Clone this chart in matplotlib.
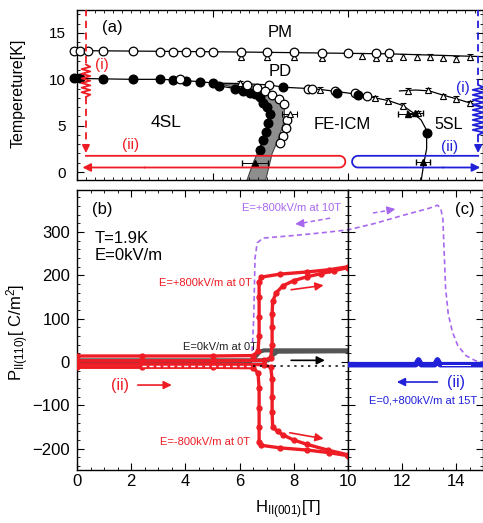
import numpy as np
import matplotlib
matplotlib.use('Agg')
import matplotlib.pyplot as plt
from matplotlib.ticker import MultipleLocator

plt.rcParams['font.family'] = ['Liberation Sans', 'DejaVu Sans']
plt.rcParams['mathtext.fontset'] = 'custom'
plt.rcParams['mathtext.rm'] = 'Liberation Sans'
plt.rcParams['mathtext.it'] = 'Liberation Sans:italic'

RED = '#ee1c24'
BLUE = '#2020d8'
PURPLE = '#a868ee'
GREY = '#555555'

# ---------------- (a) phase diagram data ----------------
pm_line_H = [0.0, 6.0, 11.5, 14.98]
pm_line_T = [13.1, 12.95, 12.75, 12.45]
pm_circ_H = [-0.1, 0.1, 0.4, 0.96, 2.07, 3.06, 3.54, 4.02, 4.54, 5.02, 6.05, 7.0, 8.0, 9.04, 10.0, 11.03, 11.5]
pm_circ_T = [13.1, 13.1, 13.1, 13.1, 13.05, 13.0, 13.0, 13.0, 12.95, 12.95, 12.95, 12.9, 12.9, 12.85, 12.85, 12.8, 12.8]
pm_tri_H = [6.05, 7.0, 8.0, 9.04, 10.5, 11.03, 11.5, 12.03, 12.55, 13.03, 13.5, 14.0, 14.5]
pm_tri_T = [12.45, 12.4, 12.4, 12.35, 12.5, 12.35, 12.35, 12.45, 12.4, 12.4, 12.35, 12.2, 12.4]

sl4_H = [-0.1, 0.1, 0.96, 2.07, 3.06, 3.54, 4.02, 4.54, 5.02, 5.24, 5.83, 6.13, 6.38, 6.57, 6.75, 6.86, 7.01, 7.12, 7.05, 6.97, 6.86, 6.75]
sl4_T = [10.1, 10.1, 10.05, 10.0, 10.0, 9.95, 9.85, 9.75, 9.6, 9.3, 9.0, 8.7, 8.5, 8.4, 8.1, 7.5, 7.0, 6.3, 5.3, 4.3, 3.45, 2.4]

pd_line_H = [5.0, 6.0, 7.1, 7.6, 8.6, 9.0, 9.55, 10.3, 10.7, 11.0, 11.5, 12.0, 12.4, 12.7, 12.9, 12.9, 12.8, 12.7]
pd_line_T = [9.6, 9.55, 9.4, 9.15, 9.0, 8.9, 8.7, 8.4, 8.2, 8.0, 7.7, 7.2, 6.4, 5.6, 4.5, 2.5, 1.0, -0.9]
pd_open_H = [3.8, 6.27, 7.08, 8.52, 8.67, 9.52, 10.26, 10.7, 6.65, 6.95, 7.2, 7.45, 7.65, 7.75, 7.7, 7.6, 7.5]
pd_open_T = [10.0, 9.4, 9.4, 9.0, 9.0, 8.75, 8.5, 8.2, 9.1, 8.7, 8.35, 7.9, 7.3, 5.6, 4.7, 3.9, 3.1]
pd_fill_H = [7.6, 9.59, 10.37, 12.9]
pd_fill_T = [9.15, 8.55, 8.35, 4.2]
pd_tri_H = [6.0, 8.97, 11.0, 11.48, 12.03, 12.6]
pd_tri_T = [9.6, 8.9, 8.0, 7.7, 7.15, 6.35]
ftri_H = [6.57, 12.2, 12.47, 12.77]
ftri_T = [1.0, 6.3, 6.35, 1.1]
ftri_err = [0.48, 0.35, 0.3, 0.25]
otri_H = [7.85]
otri_T = [6.3]

sl5_line_H = [11.9, 12.5, 13.0, 13.5, 14.0, 14.5, 14.98]
sl5_line_T = [8.75, 8.85, 8.75, 8.3, 7.9, 7.45, 7.0]
sl5_tri_H = [12.2, 12.95, 13.5, 14.0, 14.5]
sl5_tri_T = [8.75, 8.8, 8.15, 7.85, 7.4]

band_left_H = [6.27, 6.5, 6.72, 6.84, 6.95, 7.03, 7.08, 6.98, 6.84, 6.55, 6.2, 5.8, 5.3]
band_left_T = [-0.9, 1.0, 2.4, 3.45, 4.3, 5.3, 6.3, 7.0, 7.5, 8.3, 8.8, 9.1, 9.5]
band_right_H = [6.3, 6.65, 6.95, 7.25, 7.5, 7.65, 7.65, 7.55, 7.42, 7.2, 6.96]
band_right_T = [9.5, 9.1, 8.6, 8.2, 7.6, 6.8, 5.6, 4.6, 3.5, 2.0, -0.9]

# ---------------- (b), (c) polarization data ----------------
pos_out_H = [0.0, 2.4, 5.0, 6.5, 6.68, 6.72, 6.72, 6.72, 6.72, 6.8, 7.5, 8.5, 9.3, 10.0]
pos_out_P = [14, 14, 14, 15, 25, 60, 104, 150, 185, 196, 203, 208, 213, 220]
pos_in_H = [0.0, 2.4, 5.0, 6.9, 7.15, 7.2, 7.2, 7.2, 7.22, 7.35, 7.6, 8.0, 8.5, 9.0, 9.5, 10.0]
pos_in_P = [3, 3, 3, 4, 10, 40, 80, 110, 140, 160, 176, 188, 197, 204, 211, 218]
neg_out_H = pos_out_H
neg_out_P = [-12, -12, -12, -13, -25, -60, -105, -150, -185, -192, -198, -203, -209, -216]
neg_in_H = [0.0, 2.4, 5.0, 6.9, 7.15, 7.2, 7.2, 7.2, 7.22, 7.4, 7.6, 8.0, 8.5, 9.25, 10.0]
neg_in_P = [-5, -5, -5, -6, -12, -40, -80, -115, -150, -160, -168, -180, -190, -203, -214]

gray1_H = [0.0, 6.4, 6.55, 6.75, 6.9, 10.0]
gray1_P = [2, 2, 10, 24, 27, 27]
gray2_H = [0.0, 7.05, 7.2, 7.4, 10.0]
gray2_P = [4, 4, 15, 24, 25]

purple_H = [0.0, 6.3, 6.45, 6.52, 6.57, 6.65, 6.86, 8.0, 9.0, 10.0, 11.0, 12.0, 13.0, 13.3, 13.42,
            13.5, 13.55, 13.6, 13.7, 13.85, 14.05, 14.35, 14.7, 14.98]
purple_P = [0, 0, 10, 100, 240, 275, 286, 292, 298, 305, 320, 338, 355, 362, 355,
            330, 250, 170, 110, 70, 38, 15, 3, 0]

blue_H = [10.0, 12.5, 12.6, 12.7, 13.2, 13.3, 13.4, 14.98]
blue_P = [-6, -6, 5, -6, -6, 5, -6, -6]
dot_P = [-9, -9]

fig = plt.figure(figsize=(4.83, 5.23), dpi=100)
ax_a = fig.add_axes([77/483, 343/523, 406/483, 170/523])
ax_b = fig.add_axes([77/483, 53/523, 271/483, 280/523])
ax_c = fig.add_axes([348/483, 53/523, 135/483, 280/523])

# ---- panel (a) ----
MS = 6.2
ax_a.fill(band_left_H + band_right_H, band_left_T + band_right_T,
          color='#8e8e8e', ec='#444444', lw=0.8, zorder=1)
ax_a.plot(pm_line_H, pm_line_T, 'k-', lw=0.9, zorder=2)
ax_a.plot(sl4_H[1:], sl4_T[1:], 'k-', lw=0.9, zorder=2)
ax_a.plot(pd_line_H, pd_line_T, 'k-', lw=0.9, zorder=2)
ax_a.plot(sl5_line_H, sl5_line_T, 'k-', lw=0.9, zorder=2)

ax_a.errorbar(pm_tri_H, pm_tri_T, yerr=0.3, fmt='^', ms=5, mfc='white', mec='k', mew=0.8,
              ecolor='k', elinewidth=0.7, capsize=2, zorder=3)
ax_a.plot(pm_circ_H, pm_circ_T, 'o', ms=MS, mfc='white', mec='k', mew=0.9, zorder=4, clip_on=False)
ax_a.plot(sl4_H, sl4_T, 'o', ms=MS, mfc='k', mec='k', zorder=4, clip_on=False)
ax_a.errorbar(pd_tri_H, pd_tri_T, yerr=0.25, fmt='^', ms=5, mfc='white', mec='k', mew=0.8,
              ecolor='k', elinewidth=0.7, capsize=2, zorder=3)
ax_a.errorbar(sl5_tri_H, sl5_tri_T, yerr=0.3, fmt='^', ms=5, mfc='white', mec='k', mew=0.8,
              ecolor='k', elinewidth=0.7, capsize=2, zorder=3)
ax_a.plot(pd_open_H, pd_open_T, 'o', ms=MS, mfc='white', mec='k', mew=0.9, zorder=4)
ax_a.plot(pd_fill_H, pd_fill_T, 'o', ms=MS, mfc='k', mec='k', zorder=4)
ax_a.errorbar(ftri_H, ftri_T, xerr=ftri_err, fmt='^', ms=5, mfc='k', mec='k',
              ecolor='k', elinewidth=0.7, capsize=2, zorder=4)
ax_a.errorbar(otri_H, otri_T, xerr=0.28, fmt='^', ms=5, mfc='white', mec='k', mew=0.8,
              ecolor='k', elinewidth=0.7, capsize=2, zorder=4)

# red path (i)/(ii)
rx = 0.33
ax_a.plot([rx, rx], [17.6, 11.6], color=RED, lw=1.3, ls=(0, (4, 2.5)), zorder=5)
zz = np.linspace(11.6, 8.1, 15)
ax_a.plot(rx + 0.16 * np.array([0] + [1, -1] * 6 + [1, 0]), zz, color=RED, lw=1.3, zorder=5)
ax_a.plot([rx, rx], [8.1, 2.8], color=RED, lw=1.3, ls=(0, (4, 2.5)), zorder=5)
ax_a.annotate('', xy=(rx, 1.75), xytext=(rx, 2.9),
              arrowprops=dict(arrowstyle='-|>', color=RED, lw=1.3, mutation_scale=11), zorder=5)
th = np.linspace(np.pi / 2, -np.pi / 2, 30)
ax_a.plot(np.r_[rx, 9.68 + 0.22 * np.cos(th), 2.5], np.r_[1.75, 1.12 + 0.63 * np.sin(th), 0.49],
          color=RED, lw=1.3, zorder=5)
ax_a.annotate('', xy=(0.1, 0.49), xytext=(2.6, 0.49),
              arrowprops=dict(arrowstyle='-|>', color=RED, lw=1.3, mutation_scale=12), zorder=5)

# blue path (i)/(ii)
bx = 14.8
ax_a.plot([bx, bx], [17.6, 9.4], color=BLUE, lw=1.3, ls=(0, (4, 2.5)), zorder=5)
zz = np.linspace(9.4, 4.0, 21)
ax_a.plot(bx + 0.2 * np.array([0] + [1, -1] * 9 + [1, 0]), zz, color=BLUE, lw=1.3, zorder=5)
ax_a.plot([bx, bx], [4.0, 2.8], color=BLUE, lw=1.3, ls=(0, (4, 2.5)), zorder=5)
ax_a.annotate('', xy=(bx, 1.75), xytext=(bx, 2.9),
              arrowprops=dict(arrowstyle='-|>', color=BLUE, lw=1.3, mutation_scale=11), zorder=5)
th = np.linspace(np.pi / 2, 3 * np.pi / 2, 30)
ax_a.plot(np.r_[bx, 10.37 + 0.22 * np.cos(th), 13.5], np.r_[1.75, 1.12 + 0.63 * np.sin(th), 0.49],
          color=BLUE, lw=1.3, zorder=5)
ax_a.annotate('', xy=(14.98, 0.49), xytext=(13.4, 0.49),
              arrowprops=dict(arrowstyle='-|>', color=BLUE, lw=1.3, mutation_scale=12), zorder=5)

ax_a.text(1.3, 15.6, '(a)', fontsize=12, ha='center', va='center')
ax_a.text(7.5, 15.1, 'PM', fontsize=12, ha='center', va='center')
ax_a.text(7.5, 10.8, 'PD', fontsize=12, ha='center', va='center')
ax_a.text(3.3, 5.3, '4SL', fontsize=12.5, ha='center', va='center')
ax_a.text(9.8, 5.1, 'FE-ICM', fontsize=12, ha='center', va='center')
ax_a.text(13.7, 5.1, '5SL', fontsize=11.5, ha='center', va='center')
ax_a.text(0.92, 11.55, '(i)', fontsize=11, color=RED, ha='center', va='center')
ax_a.text(1.96, 2.9, '(ii)', fontsize=11, color=RED, ha='center', va='center')
ax_a.text(14.25, 9.05, '(i)', fontsize=11, color=BLUE, ha='center', va='center')
ax_a.text(13.75, 2.7, '(ii)', fontsize=11, color=BLUE, ha='center', va='center')

ax_a.set_xlim(0, 14.98)
ax_a.set_ylim(-0.86, 17.48)
ax_a.xaxis.set_major_locator(MultipleLocator(5))
ax_a.xaxis.set_minor_locator(MultipleLocator(1 / 3))
ax_a.yaxis.set_major_locator(MultipleLocator(5))
ax_a.yaxis.set_minor_locator(MultipleLocator(1))
ax_a.set_xticklabels([])
ax_a.tick_params(which='both', direction='in', top=True, right=True, labelsize=11)
ax_a.tick_params(axis='y', pad=8)
ax_a.tick_params(which='major', length=5)
ax_a.tick_params(which='minor', length=2.5)

# ---- panel (b) ----
ax_b.plot(purple_H, purple_P, color=PURPLE, lw=1.2, ls=(0, (3, 2)), zorder=1)
ax_b.plot(gray2_H, gray2_P, color=GREY, lw=3, zorder=2)
ax_b.plot(gray1_H, gray1_P, color=GREY, lw=3, zorder=2)
for h, p in [(pos_out_H, pos_out_P), (pos_in_H, pos_in_P), (neg_out_H, neg_out_P), (neg_in_H, neg_in_P)]:
    ax_b.plot(h, p, color=RED, lw=2.4, marker='o', ms=3.5, zorder=3)
ax_b.plot([2.4, 6.5], dot_P, color='white', lw=1, ls=(0, (3, 2)), zorder=4)
ax_b.plot([6.5, 10.0], dot_P, color='k', lw=1.1, ls=(0, (1.5, 3)), zorder=4)

ax_b.annotate('', xy=(9.2, 178), xytext=(7.8, 166),
              arrowprops=dict(arrowstyle='-|>', color=RED, lw=1.2, mutation_scale=12))
ax_b.annotate('', xy=(9.2, -178), xytext=(7.75, -162),
              arrowprops=dict(arrowstyle='-|>', color=RED, lw=1.2, mutation_scale=12))
ax_b.annotate('', xy=(9.25, 4), xytext=(7.8, 4),
              arrowprops=dict(arrowstyle='-|>', color='k', lw=1.2, mutation_scale=12))
ax_b.annotate('', xy=(3.6, -53), xytext=(2.14, -53),
              arrowprops=dict(arrowstyle='-|>', color=RED, lw=1.2, mutation_scale=12))
ax_b.plot([9.34, 8.25], [332, 320], color=PURPLE, lw=1.1, ls=(0, (3, 2)))
ax_b.annotate('', xy=(7.95, 318), xytext=(8.3, 320),
              arrowprops=dict(arrowstyle='-|>', color=PURPLE, lw=1.1, mutation_scale=12))

ax_b.text(0.92, 351, '(b)', fontsize=12, ha='center', va='center')
ax_b.text(0.66, 286, 'T=1.9K', fontsize=12, ha='left', va='center')
ax_b.text(0.66, 247, 'E=0kV/m', fontsize=12, ha='left', va='center')
ax_b.text(6.45, 182, 'E=+800kV/m at 0T', fontsize=8, color=RED, ha='right', va='center')
ax_b.text(6.62, 35, 'E=0kV/m at 0T', fontsize=8, color='#222222', ha='right', va='center')
ax_b.text(6.38, -185, 'E=-800kV/m at 0T', fontsize=8, color=RED, ha='right', va='center')
ax_b.text(1.6, -53, '(ii)', fontsize=11.5, color=RED, ha='center', va='center')
ax_b.text(7.9, 355, 'E=+800kV/m at 10T', fontsize=8, color=PURPLE, ha='center', va='center')

ax_b.set_xlim(0, 10)
ax_b.set_ylim(-249, 397)
ax_b.xaxis.set_major_locator(MultipleLocator(2))
ax_b.xaxis.set_minor_locator(MultipleLocator(0.5))
ax_b.yaxis.set_major_locator(MultipleLocator(100))
ax_b.yaxis.set_minor_locator(MultipleLocator(20))
ax_b.tick_params(which='both', direction='in', top=True, right=True, labelsize=12)
ax_b.tick_params(axis='y', pad=5)
ax_b.tick_params(axis='x', pad=3)
ax_b.tick_params(which='major', length=5)
ax_b.tick_params(which='minor', length=2.5)

# ---- panel (c) ----
ax_c.plot(purple_H, purple_P, color=PURPLE, lw=1.2, ls=(0, (3, 2)), zorder=1)
ax_c.plot(blue_H, blue_P, color=BLUE, lw=4, zorder=3)
ax_c.plot([13.45, 14.5], [-6, -6], color='white', lw=0.7, zorder=4)
ax_c.plot([10.92, 11.6], [344, 351], color=PURPLE, lw=1.1, ls=(0, (3, 2)))
ax_c.annotate('', xy=(11.85, 354), xytext=(11.55, 351),
              arrowprops=dict(arrowstyle='-|>', color=PURPLE, lw=1.1, mutation_scale=12))
ax_c.annotate('', xy=(11.7, -46), xytext=(13.4, -46),
              arrowprops=dict(arrowstyle='-|>', color=BLUE, lw=1.2, mutation_scale=12))
ax_c.text(14.3, 351, '(c)', fontsize=12, ha='center', va='center')
ax_c.text(14.0, -46, '(ii)', fontsize=11.5, color=BLUE, ha='center', va='center')
ax_c.text(12.77, -88, 'E=0,+800kV/m at 15T', fontsize=8, color=BLUE, ha='center', va='center')

ax_c.set_xlim(10, 14.98)
ax_c.set_ylim(-249, 397)
ax_c.xaxis.set_minor_locator(MultipleLocator(0.5))
ax_c.set_xticks([12, 14])
ax_c.yaxis.set_major_locator(MultipleLocator(100))
ax_c.yaxis.set_minor_locator(MultipleLocator(20))
ax_c.set_yticklabels([])
ax_c.tick_params(which='both', direction='in', top=True, right=True, labelsize=12)
ax_c.tick_params(axis='x', pad=3)
ax_c.tick_params(which='major', length=5)
ax_c.tick_params(which='minor', length=2.5)

for ax in (ax_a, ax_b, ax_c):
    for s in ax.spines.values():
        s.set_linewidth(1.0)

fig.text(18/483, 1 - 93/523, 'Tempereture[K]', rotation=90, ha='center', va='center', fontsize=11.5)
fig.text(18/483, 1 - 332/523, r'P$_{\rm II(110)}$[ C/m$^2$]', rotation=90, ha='center', va='center', fontsize=12)
fig.text(288/483, 1 - 510/523, r'H$_{\rm II(001)}$[T]', ha='center', va='center', fontsize=12)

fig.savefig('out.png', dpi=100)
